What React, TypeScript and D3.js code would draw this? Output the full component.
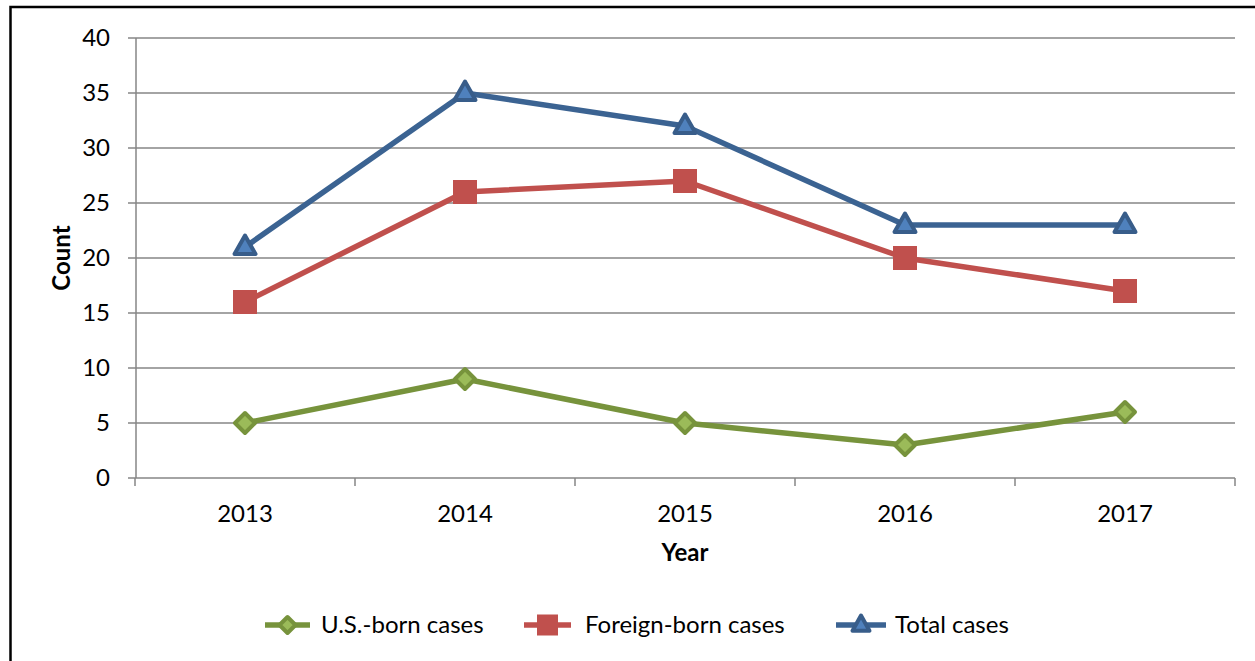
import React from "react";
import * as d3 from "d3";

const years = ["2013", "2014", "2015", "2016", "2017"];
const usBorn = [5, 9, 5, 3, 6];
const foreignBorn = [16, 26, 27, 20, 17];
const total = [21, 35, 32, 23, 23];
const yTicks = [0, 5, 10, 15, 20, 25, 30, 35, 40];

const FONT = "Lato, 'Open Sans', sans-serif";

type Shape = "diamond" | "square" | "triangle";

const series: { name: string; values: number[]; line: string; fill: string; edge: string; shape: Shape }[] = [
  { name: "U.S.-born cases", values: usBorn, line: "#77933C", fill: "#9BBB59", edge: "#77933C", shape: "diamond" },
  { name: "Foreign-born cases", values: foreignBorn, line: "#C0504D", fill: "#C0504D", edge: "#C0504D", shape: "square" },
  { name: "Total cases", values: total, line: "#3B6392", fill: "#4F81BD", edge: "#385D8A", shape: "triangle" },
];

const Marker = ({ shape, x, y, size, fill, edge }: { shape: Shape; x: number; y: number; size: number; fill: string; edge: string }) => {
  if (shape === "square") {
    return <rect x={x - size / 2} y={y - size / 2} width={size} height={size} fill={fill} stroke={edge} strokeWidth={1} />;
  }
  if (shape === "diamond") {
    const r = size / 2 - 1.5;
    return (
      <path
        d={`M${x},${y - r}L${x + r},${y}L${x},${y + r}L${x - r},${y}Z`}
        fill={fill}
        stroke={edge}
        strokeWidth={4}
        strokeLinejoin="round"
      />
    );
  }
  const h = size * 0.8;
  const w = size - 2;
  return (
    <path
      d={`M${x},${y - h * 0.62}L${x + w / 2},${y + h * 0.38}L${x - w / 2},${y + h * 0.38}Z`}
      fill={fill}
      stroke={edge}
      strokeWidth={4}
      strokeLinejoin="round"
    />
  );
};

export default function App() {
  const left = 136;
  const right = 1235;
  const top = 38;
  const bottom = 478;

  const x = d3.scaleBand<string>().domain(years).range([left - 1, right]);
  const y = d3.scaleLinear().domain([0, 40]).range([bottom, top]);
  const cx = (yr: string) => (x(yr) ?? 0) + x.bandwidth() / 2;

  const line = d3
    .line<number>()
    .x((_, i) => cx(years[i]))
    .y((d) => y(d));

  const tickXs = [...years.map((yr) => x(yr) ?? 0), right];

  const legend = [
    { x0: 265, x1: 310, tx: 321 },
    { x0: 524, x1: 571, tx: 585 },
    { x0: 836, x1: 886, tx: 895 },
  ];
  const legendY = 625;

  return (
    <svg
      width={1255}
      height={661}
      style={{ position: "absolute", left: 0, top: 0, background: "#fff" }}
      fontFamily={FONT}
    >
      {/* outer frame */}
      <rect x={10.5} y={7} width={1300} height={700} fill="#fff" stroke="#000" strokeWidth={2.5} />

      {/* gridlines */}
      {yTicks.map((t) => (
        <g key={t}>
          <line x1={left} x2={right} y1={y(t)} y2={y(t)} stroke="#868686" strokeWidth={1.5} />
          <line x1={left - 8} x2={left} y1={y(t)} y2={y(t)} stroke="#868686" strokeWidth={1.5} />
          <text x={110} y={y(t)} dy="0.35em" textAnchor="end" fontSize={24} fill="#000">
            {t}
          </text>
        </g>
      ))}
      <line x1={left} x2={left} y1={top} y2={bottom} stroke="#868686" strokeWidth={1.5} />
      {tickXs.map((tx, i) => (
        <line key={i} x1={tx} x2={tx} y1={bottom} y2={bottom + 8} stroke="#868686" strokeWidth={1.5} />
      ))}
      {years.map((yr) => (
        <text key={yr} x={cx(yr)} y={522} textAnchor="middle" fontSize={24} fill="#000">
          {yr}
        </text>
      ))}

      {/* axis titles */}
      <text x={685} y={561} textAnchor="middle" fontSize={24} fontWeight="bold" fill="#000">
        Year
      </text>
      <text
        transform={`translate(70, ${(top + bottom) / 2}) rotate(-90)`}
        textAnchor="middle"
        fontSize={24}
        fontWeight="bold"
        fill="#000"
      >
        Count
      </text>

      {/* series */}
      {series.map((s) => (
        <g key={s.name}>
          <path d={line(s.values) ?? ""} fill="none" stroke={s.line} strokeWidth={5.5} strokeLinejoin="round" />
          {s.values.map((v, i) => (
            <Marker key={i} shape={s.shape} x={cx(years[i])} y={y(v)} size={23} fill={s.fill} edge={s.edge} />
          ))}
        </g>
      ))}

      {/* legend */}
      {series.map((s, i) => {
        const l = legend[i];
        const mx = (l.x0 + l.x1) / 2;
        return (
          <g key={s.name}>
            <line x1={l.x0} x2={l.x1} y1={legendY} y2={legendY} stroke={s.line} strokeWidth={5.5} />
            <Marker shape={s.shape} x={mx} y={legendY} size={s.shape === "square" ? 20 : 19} fill={s.fill} edge={s.edge} />
            <text x={l.tx} y={legendY} dy="0.35em" fontSize={24} fill="#000">
              {s.name}
            </text>
          </g>
        );
      })}
    </svg>
  );
}
